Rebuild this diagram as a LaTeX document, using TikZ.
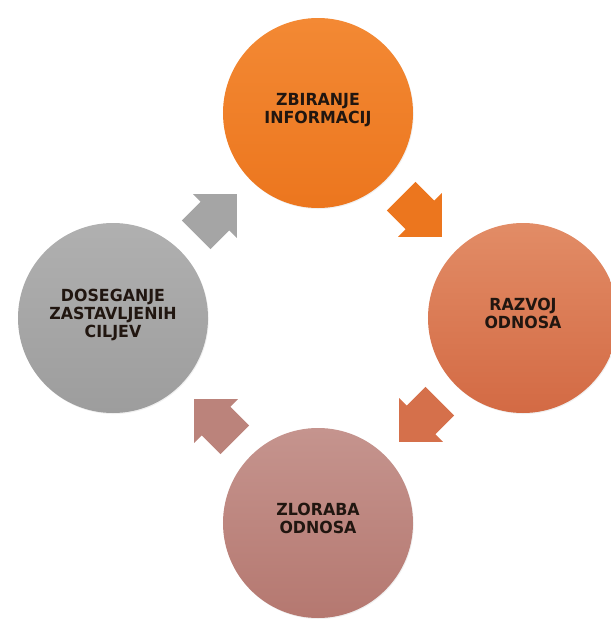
\documentclass[tikz,border=0pt]{standalone}
\usepackage{fontspec}
\setmainfont{DejaVu Sans}[FakeStretch=0.95]
\usetikzlibrary{calc,shapes.arrows,shadows}
\definecolor{ctext}{RGB}{33,22,16}
\definecolor{corangeA}{RGB}{243,137,52}
\definecolor{corangeB}{RGB}{236,118,30}
\definecolor{csalmonA}{RGB}{226,140,102}
\definecolor{csalmonB}{RGB}{211,106,68}
\definecolor{cmauveA}{RGB}{197,148,142}
\definecolor{cmauveB}{RGB}{181,120,112}
\definecolor{cgreyA}{RGB}{176,176,176}
\definecolor{cgreyB}{RGB}{157,157,157}
\tikzset{stage/.style={circle,minimum size=142.5pt,inner sep=0pt,align=center,text depth=7pt,
           font=\bfseries\fontsize{12.5}{13.5}\selectfont,text=ctext,
           drop shadow={opacity=0.12,shadow xshift=0.6pt,shadow yshift=-0.8pt}}}
\tikzset{cyc/.style={single arrow,single arrow tip angle=90,single arrow head extend=8pt,
           inner xsep=0pt,inner ysep=15pt,minimum height=43pt}}

\begin{document}
\begin{tikzpicture}[x=0.75pt,y=0.75pt]
    \useasboundingbox (-318,-301) rectangle (293,318);
    % the four stages
    \node[stage,top color=corangeA,bottom color=corangeB] (zbir) at (0,205)  {ZBIRANJE\\INFORMACIJ};
    \node[stage,top color=csalmonA,bottom color=csalmonB] (razv) at (205,0)  {RAZVOJ\\ODNOSA};
    \node[stage,top color=cmauveA,bottom color=cmauveB]   (zlor) at (0,-205) {ZLORABA\\ODNOSA};
    \node[stage,top color=cgreyA,bottom color=cgreyB]     (dose) at (-205,0) {DOSEGANJE\\ZASTAVLJENIH\\CILJEV};
    % block arrows between them
    \node[cyc,fill=corangeB,rotate=-45]          (zbir-razv) at ($(zbir)!0.47!(razv)$) {};
    \node[cyc,fill=csalmonB!96!white,rotate=-135] (razv-zlor) at ($(razv)!0.47!(zlor)$) {};
    \node[cyc,fill=cmauveB!92!white,rotate=135]   (zlor-dose) at ($(zlor)!0.47!(dose)$) {};
    \node[cyc,fill=cgreyB!92!white,rotate=45]     (dose-zbir) at ($(dose)!0.47!(zbir)$) {};
\end{tikzpicture}
\end{document}
